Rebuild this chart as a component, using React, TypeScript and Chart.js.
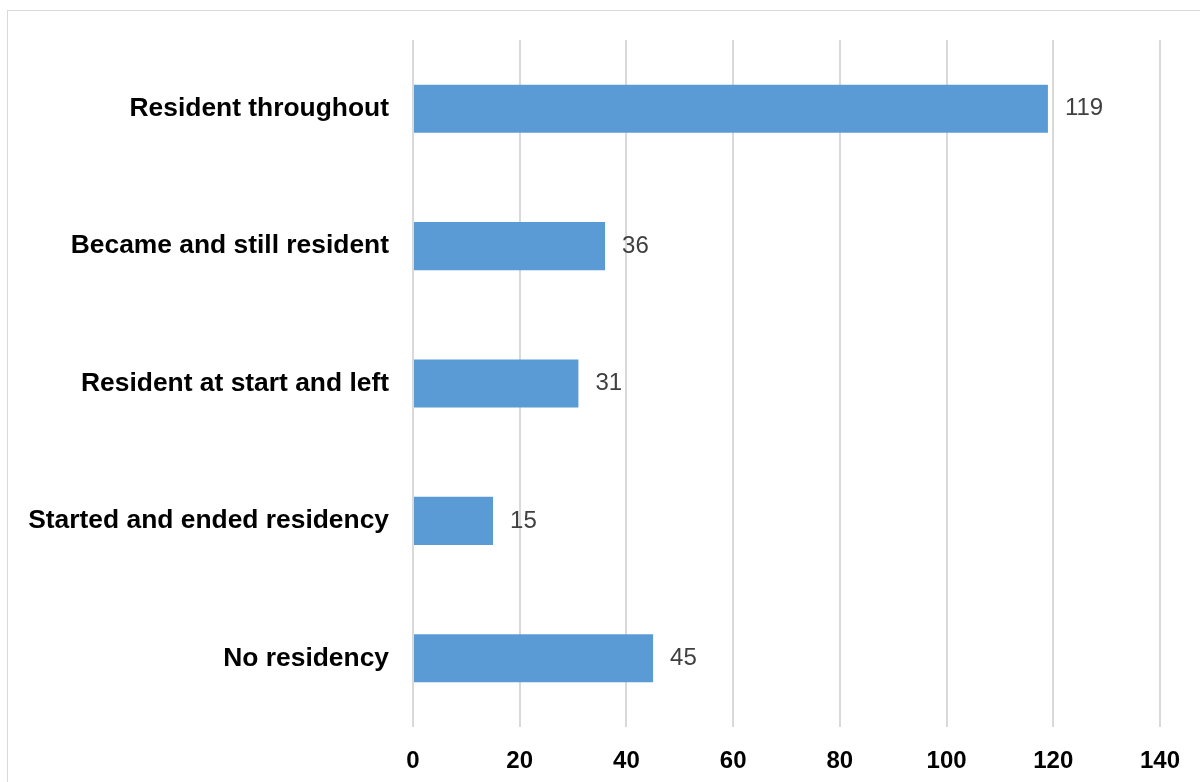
import React, { useEffect, useRef } from "react";
import { Chart, registerables } from "chart.js";

Chart.register(...registerables);

const categories = [
  "Resident throughout",
  "Became and still resident",
  "Resident at start and left",
  "Started and ended residency",
  "No residency",
];
const values = [119, 36, 31, 15, 45];
const xMin = 0;
const xMax = 140;
const xStep = 20;

const FONT = "'Liberation Sans', Arial, Helvetica, sans-serif";

const valueLabels = {
  id: "valueLabels",
  afterDatasetsDraw(chart: any) {
    const ctx = chart.ctx;
    const meta = chart.getDatasetMeta(0);
    ctx.save();
    ctx.font = `24px ${FONT}`;
    ctx.fillStyle = "#404040";
    ctx.textAlign = "left";
    ctx.textBaseline = "middle";
    meta.data.forEach((bar: any, i: number) => {
      ctx.fillText(String(values[i]), bar.x + 17, bar.y);
    });
    ctx.restore();
  },
};

export default function App() {
  const ref = useRef<HTMLCanvasElement>(null);
  useEffect(() => {
    if (!ref.current) return;
    const chart = new Chart(ref.current, {
      type: "bar",
      data: {
        labels: categories,
        datasets: [
          {
            data: values,
            backgroundColor: "#5B9BD5",
            borderWidth: 0,
            barPercentage: 0.35,
            categoryPercentage: 1,
          },
        ],
      },
      options: {
        indexAxis: "y",
        responsive: false,
        animation: false,
        layout: { padding: { top: 40, right: 40, left: 0, bottom: 0 } },
        plugins: {
          legend: { display: false },
          tooltip: { enabled: false },
        },
        scales: {
          x: {
            min: xMin,
            max: xMax,
            ticks: {
              stepSize: xStep,
              color: "#000000",
              font: { family: FONT, size: 24, weight: "bold" },
              padding: 20,
            },
            grid: { color: "#d9d9d9", lineWidth: 2, drawTicks: false },
            border: { display: false },
            afterFit(scale: any) {
              scale.height = 55;
            },
          },
          y: {
            ticks: {
              color: "#000000",
              font: { family: FONT, size: 26.4, weight: "bold" },
              padding: 24,
            },
            grid: { display: false, drawTicks: false },
            border: { display: false },
            afterFit(scale: any) {
              scale.width = 413;
            },
          },
        },
      },
      plugins: [valueLabels],
    });
    return () => chart.destroy();
  }, []);

  return (
    <div style={{ position: "fixed", left: 0, top: 0, width: 1200, height: 782, background: "#ffffff", overflow: "hidden" }}>
      <div
        style={{
          position: "absolute",
          left: 7,
          top: 10,
          width: 1300,
          height: 900,
          border: "1px solid #d9d9d9",
        }}
      />
      <canvas ref={ref} width={1200} height={782} style={{ position: "absolute", left: 0, top: 0 }} />
    </div>
  );
}
